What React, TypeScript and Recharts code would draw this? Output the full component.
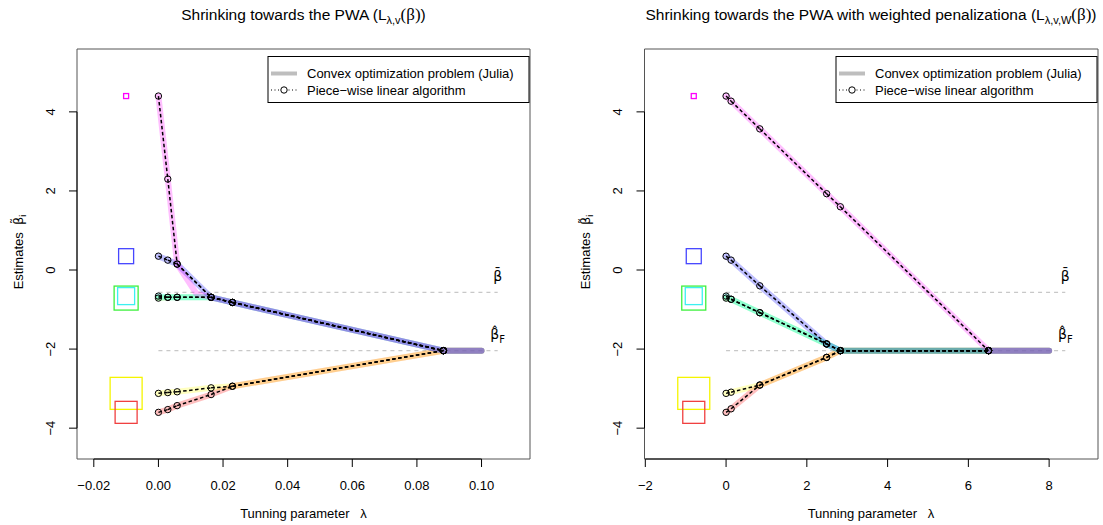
import React from "react";
import {
  ComposedChart,
  Line,
  Scatter,
  XAxis,
  YAxis,
  ReferenceLine,
  ReferenceArea,
  ReferenceDot,
} from "recharts";

const FONT = '"Liberation Sans", Arial, Helvetica, sans-serif';
const MATH = '"DejaVu Sans", "Liberation Sans", sans-serif';
const SERIF = '"Liberation Serif", "DejaVu Serif", serif';
const NB = "\u00a0";

// coefficient order: magenta, blue, green, cyan, yellow, red
const coefColors = ["#ff00ff", "#0000ff", "#00ff00", "#00ffff", "#ffff00", "#ff0000"];
const squareColors = ["#ff00ff", "#4646ff", "#3cf03c", "#3cf0f0", "#f5f500", "#f04040"];
// weight of each coefficient, drawn as the side of the square at the start estimate
const weights = [0.5, 1.5, 2.4, 1.7, 3.2, 2.2];
const PX_PER_WEIGHT = 10;

// pooled weighted average and the fully fused estimate
const betaBar = -0.565;
const betaF = -2.04;

// unweighted penalty: breakpoints of the piece-wise linear path
const lambdaLeft = [0, 0.0029, 0.0058, 0.0163, 0.0229, 0.0882];
const magentaLeft = [4.4, 2.3, 0.15, -0.69, -0.82, -2.04];
const blueLeft = [0.35, 0.25, 0.15, -0.69, -0.82, -2.04];
const greenLeft = [-0.71, -0.69, -0.69, -0.69, -0.82, -2.04];
const cyanLeft = [-0.66, -0.69, -0.69, -0.69, -0.82, -2.04];
const yellowLeft = [-3.12, -3.1, -3.08, -2.98, -2.94, -2.04];
const redLeft = [-3.6, -3.53, -3.43, -3.15, -2.94, -2.04];
// Julia's grid solution bends the first coefficient away a bit earlier
const juliaLambdaMagentaLeft = [0, 0.0029, 0.0058, 0.0118, 0.0163, 0.0229, 0.0882, 0.1];
const juliaMagentaLeft = [4.4, 2.3, 0.15, -0.6, -0.69, -0.82, -2.04, -2.04];
const lambdaMaxLeft = 0.1;
const xTicksLeft = [-0.02, 0, 0.02, 0.04, 0.06, 0.08, 0.1];

// weighted penalty
const lambdaRight = [0, 0.125, 0.835, 2.49, 2.83, 6.5];
const magentaRight = [4.4, 4.27, 3.57, 1.93, 1.6, -2.04];
const blueRight = [0.35, 0.25, -0.4, -1.87, -2.04, -2.04];
const greenRight = [-0.71, -0.74, -1.08, -1.87, -2.04, -2.04];
const cyanRight = [-0.66, -0.74, -1.08, -1.87, -2.04, -2.04];
const yellowRight = [-3.12, -3.09, -2.91, -2.21, -2.04, -2.04];
const redRight = [-3.6, -3.51, -2.91, -2.21, -2.04, -2.04];
const lambdaMaxRight = 8;
const xTicksRight = [-2, 0, 2, 4, 6, 8];

const yTicks = [-4, -2, 0, 2, 4];
const yDomain: [number, number] = [-4.78, 5.59];

// bands are layered so the blends come out the same as in R
const bandOrder = [5, 4, 2, 3, 1, 0];

type Pt = { x: number; y: number };
type PanelProps = {
  lambdas: number[];
  paths: number[][];
  juliaOverride: Record<number, { lam: number[]; val: number[] }>;
  lambdaMax: number;
  squareX: number;
  xDomain: [number, number];
  xTicks: number[];
  digits: number;
  width: number;
  yAxisWidth: number;
  marginRight: number;
};

const fmt = (v: number, digits: number) => v.toFixed(digits).replace("-", "\u2212");

function Panel(props: PanelProps) {
  const { lambdas, paths, juliaOverride, lambdaMax, squareX, xDomain, xTicks, digits } = props;

  // each piece of the path is its own line, so fused pieces keep the same dash phase
  const pieces: Pt[][] = [];
  paths.forEach((p) => {
    for (let k = 0; k < p.length - 1; k++) {
      pieces.push([
        { x: lambdas[k], y: p[k] },
        { x: lambdas[k + 1], y: p[k + 1] },
      ]);
    }
  });
  const knots: Pt[] = paths.flatMap((p) => p.map((y, k) => ({ x: lambdas[k], y })));
  const bands: Pt[][] = paths.map((p, i) => {
    const o = juliaOverride[i];
    if (o) return o.val.map((y, k) => ({ x: o.lam[k], y }));
    return [...lambdas, lambdaMax].map((x, k) => ({ x, y: p[Math.min(k, p.length - 1)] }));
  });
  const squares = paths.map((p, i) => ({ x: squareX, y: p[0], w: weights[i], i }));
  const labelX = lambdaMax * 1.05;

  return (
    <ComposedChart
      width={props.width}
      height={525}
      margin={{ top: 49, right: props.marginRight, bottom: 0, left: 0 }}
    >
      <XAxis
        type="number"
        dataKey="x"
        domain={xDomain}
        ticks={xTicks}
        interval={0}
        allowDataOverflow
        axisLine={false}
        tickSize={8}
        tickLine={{ stroke: "#000" }}
        height={66}
        tick={(t: any) => (
          <text
            x={t.x}
            y={t.y}
            dy={21}
            textAnchor="middle"
            fontSize={13}
            fontFamily={FONT}
            fill="#000"
          >
            {fmt(t.payload.value, digits)}
          </text>
        )}
      />
      <YAxis
        type="number"
        dataKey="y"
        domain={yDomain}
        ticks={yTicks}
        interval={0}
        allowDataOverflow
        axisLine={false}
        tickSize={8}
        tickLine={{ stroke: "#000" }}
        width={props.yAxisWidth}
        tick={(t: any) => (
          <text
            x={t.x - 12}
            y={t.y}
            transform={`rotate(-90 ${t.x - 12} ${t.y})`}
            textAnchor="middle"
            fontSize={13}
            fontFamily={FONT}
            fill="#000"
          >
            {fmt(t.payload.value, 0)}
          </text>
        )}
      />

      <ReferenceArea
        x1={xDomain[0]}
        x2={xDomain[1]}
        y1={yDomain[0]}
        y2={yDomain[1]}
        fill="none"
        fillOpacity={0}
        stroke="#555"
        strokeWidth={1}
        ifOverflow="visible"
      />
      <ReferenceLine
        segment={[
          { x: xTicks[0], y: yDomain[0] },
          { x: xTicks[xTicks.length - 1], y: yDomain[0] },
        ]}
        stroke="#000"
        strokeWidth={1}
        ifOverflow="visible"
      />
      <ReferenceLine
        segment={[
          { x: xDomain[0], y: yTicks[0] },
          { x: xDomain[0], y: yTicks[yTicks.length - 1] },
        ]}
        stroke="#000"
        strokeWidth={1}
        ifOverflow="visible"
      />

      <ReferenceLine
        segment={[
          { x: 0, y: betaBar },
          { x: labelX, y: betaBar },
        ]}
        stroke="#c8c8c8"
        strokeDasharray="4 4"
        strokeWidth={1.2}
      />
      <ReferenceLine
        segment={[
          { x: 0, y: betaF },
          { x: labelX, y: betaF },
        ]}
        stroke="#c8c8c8"
        strokeDasharray="4 4"
        strokeWidth={1.2}
      />
      <ReferenceDot
        x={labelX}
        y={betaBar + 0.42}
        r={0}
        ifOverflow="visible"
        shape={(p: any) => (
          <text
            x={p.cx}
            y={p.cy + 5}
            textAnchor="middle"
            fontSize={14}
            fontFamily={MATH}
            fill="#000"
          >
            {"\u03b2\u0304"}
          </text>
        )}
      />
      <ReferenceDot
        x={labelX}
        y={betaF + 0.42}
        r={0}
        ifOverflow="visible"
        shape={(p: any) => (
          <text
            x={p.cx}
            y={p.cy + 5}
            textAnchor="middle"
            fontSize={14}
            fontFamily={MATH}
            fill="#000"
          >
            {"\u03b2\u0302"}
            <tspan dy={4} fontSize={10}>
              F
            </tspan>
          </text>
        )}
      />

      {bandOrder.map((i) => (
        <Line
          key={`band${i}`}
          data={bands[i]}
          dataKey="y"
          type="linear"
          stroke={coefColors[i]}
          strokeOpacity={0.25}
          strokeWidth={6}
          strokeLinecap="round"
          strokeLinejoin="round"
          dot={false}
          activeDot={false}
          isAnimationActive={false}
        />
      ))}
      {pieces.map((pts, j) => (
        <Line
          key={`piece${j}`}
          data={pts}
          dataKey="y"
          type="linear"
          stroke="#000"
          strokeWidth={1.5}
          strokeDasharray="3.5 2.5"
          dot={false}
          activeDot={false}
          isAnimationActive={false}
        />
      ))}
      <Scatter
        data={knots}
        isAnimationActive={false}
        shape={(p: any) => (
          <circle cx={p.cx} cy={p.cy} r={3.2} fill="none" stroke="#000" strokeWidth={1} />
        )}
      />

      <Scatter
        data={squares}
        isAnimationActive={false}
        shape={(p: any) => {
          const s = p.payload.w * PX_PER_WEIGHT;
          return (
            <rect
              x={p.cx - s / 2}
              y={p.cy - s / 2}
              width={s}
              height={s}
              fill="none"
              stroke={squareColors[p.payload.i]}
              strokeWidth={1.3}
            />
          );
        }}
      />
    </ComposedChart>
  );
}

function Title({ x, text, sub }: { x: number; text: string; sub: string }) {
  return (
    <text x={x} y={20} textAnchor="middle" fontSize={15.5} fontFamily={FONT} fill="#000">
      {text}
      <tspan fontSize={11} dy={4}>
        {sub}
      </tspan>
      <tspan dy={-4} fontFamily={SERIF} fontSize={17}>
        (β)
      </tspan>
      <tspan>)</tspan>
    </text>
  );
}

function YLabel({ x }: { x: number }) {
  const y = 252;
  return (
    <text
      x={x}
      y={y}
      transform={`rotate(-90 ${x} ${y})`}
      textAnchor="middle"
      fontSize={13}
      fontFamily={FONT}
      fill="#000"
    >
      {`Estimates${NB}${NB}`}
      <tspan fontFamily={MATH}>{"\u03b2\u0303"}</tspan>
      <tspan dy={3} fontSize={9}>
        i
      </tspan>
    </text>
  );
}

function LegendBox({ left }: { left: number }) {
  const top = 56.5;
  return (
    <g fontFamily={FONT} fontSize={13} fill="#000">
      <rect x={left} y={top} width={261} height={46} fill="#fff" stroke="#000" />
      <line x1={left + 3} x2={left + 29} y1={top + 17} y2={top + 17} stroke="#bebebe" strokeWidth={4} />
      <line
        x1={left + 3}
        x2={left + 29}
        y1={top + 33.5}
        y2={top + 33.5}
        stroke="#000"
        strokeDasharray="1 2.5"
      />
      <circle cx={left + 16} cy={top + 33.5} r={3.2} fill="#fff" stroke="#000" />
      <text x={left + 39} y={top + 21.5}>
        Convex optimization problem (Julia)
      </text>
      <text x={left + 39} y={top + 38}>
        Piece−wise linear algorithm
      </text>
    </g>
  );
}

function XLabel({ x }: { x: number }) {
  return (
    <text x={x} y={518} textAnchor="middle" fontSize={13} fontFamily={FONT} fill="#000">
      {`Tunning parameter${NB}${NB}${NB}λ`}
    </text>
  );
}

export default function App() {
  const leftPaths = [magentaLeft, blueLeft, greenLeft, cyanLeft, yellowLeft, redLeft];
  const rightPaths = [magentaRight, blueRight, greenRight, cyanRight, yellowRight, redRight];
  return (
    <div
      style={{
        position: "absolute",
        left: 0,
        top: 0,
        width: 1103,
        height: 525,
        background: "#fff",
        overflow: "hidden",
      }}
    >
      <div style={{ position: "absolute", left: 0, top: 0 }}>
        <Panel
          lambdas={lambdaLeft}
          paths={leftPaths}
          juliaOverride={{ 0: { lam: juliaLambdaMagentaLeft, val: juliaMagentaLeft } }}
          lambdaMax={lambdaMaxLeft}
          squareX={-0.01}
          xDomain={[-0.0252, 0.115]}
          xTicks={xTicksLeft}
          digits={2}
          width={551}
          yAxisWidth={77}
          marginRight={21}
        />
      </div>
      <div style={{ position: "absolute", left: 551, top: 0 }}>
        <Panel
          lambdas={lambdaRight}
          paths={rightPaths}
          juliaOverride={{}}
          lambdaMax={lambdaMaxRight}
          squareX={-0.8}
          xDomain={[-2.02, 9.21]}
          xTicks={xTicksRight}
          digits={0}
          width={552}
          yAxisWidth={93.5}
          marginRight={5}
        />
      </div>
      <svg
        width={1103}
        height={525}
        style={{ position: "absolute", left: 0, top: 0, pointerEvents: "none" }}
      >
        <Title x={303.5} text="Shrinking towards the PWA (L" sub="λ,v" />
        <Title x={871} text="Shrinking towards the PWA with weighted penalizationa (L" sub="λ,v,W" />
        <YLabel x={22.5} />
        <YLabel x={590} />
        <XLabel x={303.5} />
        <XLabel x={871} />
        <LegendBox left={268} />
        <LegendBox left={836} />
      </svg>
    </div>
  );
}
